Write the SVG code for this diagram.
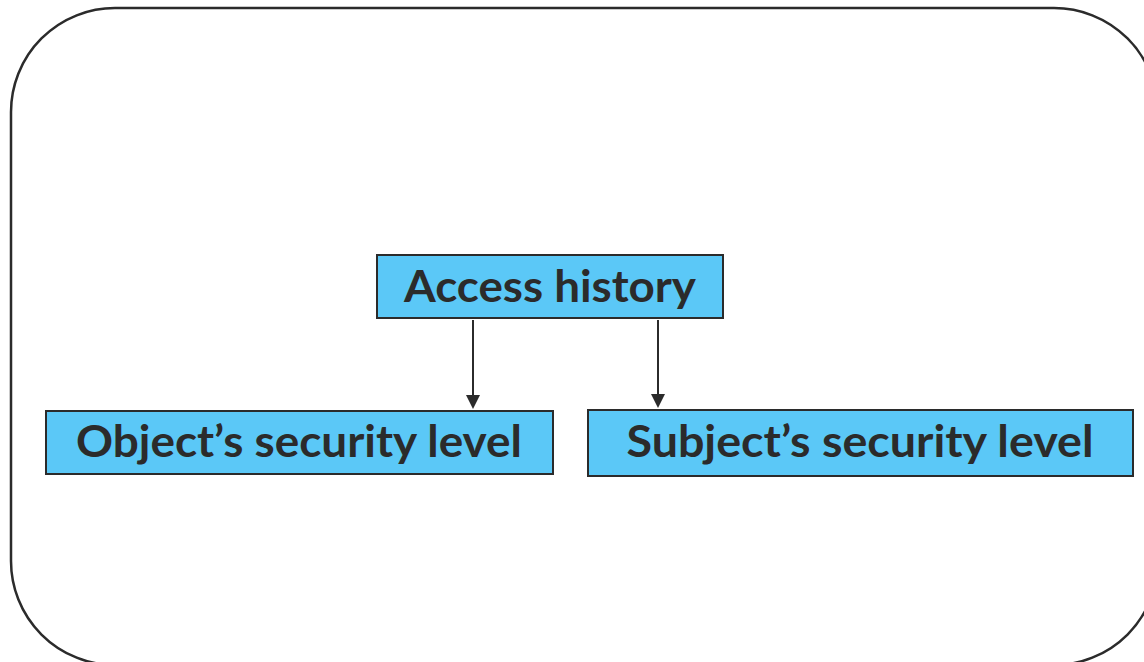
<svg xmlns="http://www.w3.org/2000/svg" width="1144" height="662" viewBox="0 0 1144 662">
<style>
.frame{fill:#fff;stroke:#2b2b2b;stroke-width:2.5}
.box{fill:#5BC8F7;stroke:#2b2b2b;stroke-width:2}
.lbl{font-family:Lato,"Open Sans","Liberation Sans",sans-serif;font-weight:bold;font-size:44px;fill:#2b2b2b;text-anchor:middle}
.conn{stroke:#2b2b2b;stroke-width:2;fill:none}
.head{fill:#2b2b2b}
</style>
<rect fill="#fff" x="0" y="0" width="1144" height="662"/>
<rect class="frame" x="11" y="8" width="1147" height="657" rx="104" ry="104"/>
<g id="connectors">
<path class="conn" d="M473,320 L473,396"/>
<path class="head" d="M466,395 L480,395 L473,409 z"/>
<path class="conn" d="M658,320 L658,395"/>
<path class="head" d="M651,394 L665,394 L658,408 z"/>
</g>
<g id="access-history">
<rect class="box" x="377" y="255" width="346" height="63"/>
<text class="lbl" x="550" y="302" textLength="292" lengthAdjust="spacingAndGlyphs">Access history</text>
</g>
<g id="object-level">
<rect class="box" x="46" y="411" width="507" height="63"/>
<text class="lbl" x="299" y="457" textLength="446" lengthAdjust="spacingAndGlyphs">Object’s security level</text>
</g>
<g id="subject-level">
<rect class="box" x="588" y="410" width="545" height="66"/>
<text class="lbl" x="860" y="457" textLength="467" lengthAdjust="spacingAndGlyphs">Subject’s security level</text>
</g>
</svg>
